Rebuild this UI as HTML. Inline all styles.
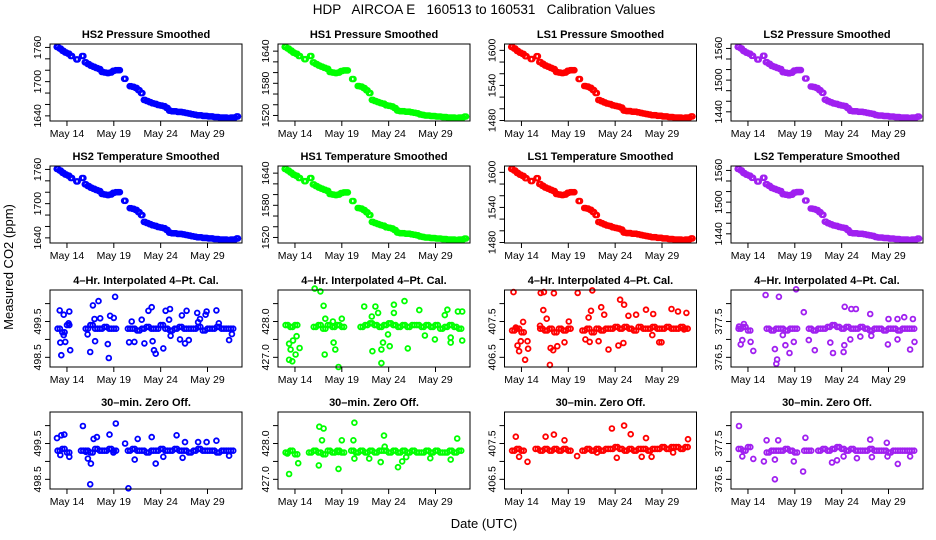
<!DOCTYPE html>
<html><head><meta charset="utf-8"><style>
html,body{margin:0;padding:0;background:#fff;}
svg{display:block;font-family:"Liberation Sans",Arial,sans-serif;}
</style></head><body>
<svg id="chart" width="936" height="540" viewBox="0 0 936 540" xmlns="http://www.w3.org/2000/svg">
<rect x="0" y="0" width="936" height="540" fill="#fff"/>
<text x="484" y="14" font-size="13.5" text-anchor="middle" xml:space="preserve">HDP   AIRCOA E   160513 to 160531   Calibration Values</text>
<text x="0" y="0" font-size="13" text-anchor="middle" transform="translate(13,267) rotate(-90)">Measured CO2 (ppm)</text>
<text x="484" y="528" font-size="13" text-anchor="middle">Date (UTC)</text>
</svg>
<script>
// time grids (day of May)
const tSmooth=[12.9,13.2,13.5,13.8,14.1,14.4,14.7,15.0,15.3,15.6,15.9,16.2,16.5,16.8,17.1,17.4,17.7,18.0,18.3,18.6,18.9,19.2,19.5,19.8,20.1,20.4,20.7,21.0,21.3,21.6,21.9,22.2,22.5,22.8,23.1,23.4,23.7,24.0,24.3,24.6,24.9,25.2,25.5,25.8,26.1,26.4,26.7,27.0,27.3,27.6,27.9,28.2,28.5,28.8,29.1,29.4,29.7,30.0,30.3,30.6,30.9,31.2,31.5,31.8,32.1];
const tNoise=[13.0,13.5,14.0,14.5,15.0,15.5,16.0,16.5,17.0,17.5,18.0,18.5,19.0,19.5,20.0,20.5,21.0,21.5,22.0,22.5,23.0,23.5,24.0,24.5,25.0,25.5,26.0,26.5,27.0,27.5,28.0,28.5,29.0,29.5,30.0,30.5,31.0,31.5,32.0];
const xTickDays=[14,19,24,29];
const xTickLabels=["May 14","May 19","May 24","May 29"];

// smoothed series
const hs2Smooth=[1761,1758,1754,1751,1749,1745,null,1739,null,1745,1734,1731,1728,1726,1724,1722,1717,1716,1715,1716,1719,1720,1720,null,1705,null,1692,1691,1689,1685,1680,1668,1666,1664,1662,1661,1659,1658,1657,1654,1649,1648,1648,1647,1647,1646,1645,1644,1643,1642,1641,1641,1640,1640,1639,1639,1638,1638,1637,1637,1637,1636,1637,1637,1639];
const hs1Smooth=[1648,1645,1641,1637,1635,1631,null,1625,null,1631,1619,1616,1613,1611,1609,1607,1601,1600,1599,1600,1603,1604,1604,null,1588,null,1575,1574,1571,1567,1562,1549,1547,1545,1543,1542,1539,1538,1537,1534,1529,1528,1528,1527,1527,1526,1525,1524,1522,1521,1520,1520,1519,1519,1518,1518,1517,1517,1516,1516,1516,1515,1516,1516,1518];
const ls1Smooth=[1606,1603,1599,1596,1594,1590,null,1585,null,1590,1580,1577,1574,1572,1570,1568,1563,1562,1561,1562,1565,1566,1566,null,1551,null,1539,1538,1536,1532,1527,1515,1513,1511,1509,1508,1506,1505,1504,1502,1497,1496,1496,1495,1495,1494,1493,1492,1491,1490,1489,1489,1488,1488,1487,1487,1486,1486,1485,1485,1485,1484,1485,1485,1487];
const ls2Smooth=[1563,1560,1555,1552,1550,1546,null,1539,null,1546,1534,1531,1527,1525,1523,1521,1515,1514,1513,1514,1518,1519,1519,null,1503,null,1488,1487,1485,1481,1476,1463,1460,1458,1456,1455,1453,1452,1451,1447,1442,1441,1441,1440,1440,1439,1438,1437,1436,1434,1433,1433,1432,1432,1431,1431,1430,1430,1429,1429,1429,1428,1429,1429,1431];

// noise baselines (on tNoise)
const hs2Cal=[499.3,499.2,499.4,null,null,null,499.3,499.4,499.3,499.3,499.35,499.3,499.3,null,null,499.3,499.3,499.25,499.3,499.35,499.3,499.3,499.4,499.3,499.25,499.3,499.35,499.3,499.3,499.3,499.35,499.25,499.3,499.3,499.35,499.3,499.3,499.3,null];
const hs1Cal=[427.9,427.85,427.9,null,null,null,427.85,427.9,427.8,427.9,427.85,427.9,427.85,null,null,null,427.85,427.9,427.95,427.9,427.85,427.9,427.95,427.9,427.85,427.9,427.85,427.9,427.9,427.85,427.9,427.85,427.9,427.8,427.85,427.9,427.85,427.8,null];
const ls1Cal=[407.25,407.3,407.2,null,null,null,407.3,407.25,407.3,407.2,407.3,407.25,407.3,null,null,407.25,407.3,407.2,407.3,407.25,407.3,407.3,407.35,407.3,407.35,407.3,407.25,407.35,407.3,407.3,407.35,407.3,407.3,407.35,407.3,407.3,407.35,407.3,null];
const ls2Cal=[377.3,377.35,377.25,null,null,null,377.3,377.25,377.3,377.3,377.25,377.3,377.3,null,null,377.3,377.25,377.3,377.3,377.35,377.4,377.35,377.3,377.35,377.3,377.3,377.35,377.3,377.25,377.3,377.3,377.25,377.3,377.3,377.25,377.3,377.3,377.3,null];
const hs2Zero=[499.3,499.35,499.25,null,null,499.3,499.3,499.25,499.35,499.3,499.3,499.35,499.3,null,null,499.3,499.35,499.3,499.3,499.25,499.3,499.3,499.35,499.3,499.3,499.35,499.3,499.3,499.25,499.3,499.35,499.3,499.3,499.3,499.25,499.3,499.3,499.3,null];
const hs1Zero=[427.75,427.8,427.7,null,null,427.75,427.8,427.75,427.7,427.8,427.75,427.8,427.75,null,427.8,427.75,427.8,427.75,427.8,427.75,427.8,427.8,427.75,427.8,427.75,427.8,427.75,427.8,427.75,427.75,427.8,427.75,427.8,427.75,427.75,427.8,427.75,427.8,null];
const ls1Zero=[407.3,407.35,407.3,null,null,407.35,407.3,407.35,407.3,407.35,407.3,407.35,407.3,null,null,407.3,407.35,407.3,407.35,407.3,407.35,407.35,407.4,407.35,407.3,407.35,407.3,407.35,407.35,407.3,407.35,407.35,407.4,407.35,407.4,407.4,407.35,407.4,null];
const ls2Zero=[377.35,377.3,377.4,null,null,null,377.25,377.3,377.3,377.3,377.35,377.3,377.25,null,377.3,377.3,null,377.3,377.35,377.3,377.35,377.4,377.35,377.3,377.35,377.3,377.3,377.3,377.35,377.3,377.3,377.3,377.25,377.3,377.3,377.3,377.3,377.3,null];

// noise outliers (time, value)
const hs2CalT=[13.22,13.65,14.25,13.29,13.82,13.4,14.35,13.65,14.18,16.77,17.37,17.0,16.48,16.2,16.94,17.55,18.6,19.14,18.36,18.47,19.0,20.91,20.63,21.2,21.98,22.26,22.69,23.04,23.14,23.29,23.47,24.28,24.53,25.0,24.9,25.06,26.06,26.6,26.27,26.77,27.0,27.9,28.0,28.8,28.9,29.95,30.2,31.3,31.6,28.2];
const hs2CalV=[499.81,499.69,499.78,498.91,498.93,498.56,498.7,499.12,499.45,499.95,500.07,498.95,498.65,499.14,499.57,499.59,499.66,500.19,498.87,498.48,499.6,499.5,498.92,498.93,499.55,498.89,499.8,499.9,498.95,498.7,498.6,498.75,499.8,499.85,499.55,499.1,499.0,498.89,499.67,499.8,498.98,499.74,499.48,499.69,499.78,499.81,499.45,498.98,499.15,499.57];
const hs1CalT=[13.37,13.54,13.37,13.72,14.49,13.79,14.07,14.18,16.11,16.71,17.06,17.17,17.24,18.05,18.3,18.12,18.65,19.0,21.39,22.27,22.59,23.22,23.22,23.4,24.56,24.56,23.93,24.11,25.69,26.04,27.27,27.87,28.93,29.99,30.27,30.62,31.39,31.85,31.85,30.62,22.2,22.87];
const hs1CalV=[427.38,427.22,426.93,426.89,427.26,427.47,427.08,427.59,428.92,428.84,428.44,427.08,428.08,428.0,427.22,427.41,426.73,428.08,428.42,427.17,428.42,427.22,426.84,427.41,428.47,428.24,427.64,427.31,428.57,427.25,428.32,427.61,427.5,428.18,428.33,427.41,428.28,428.28,427.47,427.55,428.14,428.24];
const ls1CalT=[13.15,13.4,13.58,13.75,13.93,14.18,14.39,14.64,14.71,15.98,16.05,16.33,16.4,16.69,17.11,17.39,17.04,17.46,17.82,18.59,19.05,20.0,21.42,21.17,20.82,21.28,21.56,22.23,22.51,22.83,23.29,24.35,24.53,24.95,24.88,25.41,26.23,27.29,27.96,28.06,28.7,28.95,30.01,30.71,31.6,31.35];
const ls1CalV=[408.32,407.33,406.83,406.67,406.95,407.49,406.43,406.95,406.74,407.38,408.3,407.82,408.32,407.58,406.76,406.7,406.29,408.29,406.81,406.92,407.5,408.3,407.8,407.61,407.0,406.93,408.37,406.95,407.9,407.69,406.72,406.83,408.11,407.97,406.9,407.66,407.69,407.83,407.12,407.71,406.92,406.92,407.85,407.78,407.74,407.28];
const ls2CalT=[13.22,13.4,14.28,14.57,13.04,13.57,15.88,17.3,19.14,16.87,17.11,17.02,18.0,18.43,17.72,18.89,19.96,20.49,21.13,22.79,23.08,24.28,24.21,24.32,25.03,25.52,24.92,25.99,27.05,27.16,28.93,29.0,29.96,29.96,31.3,31.77,30.67,31.6];
const ls2CalV=[376.86,376.98,376.93,376.68,377.36,377.43,378.24,378.19,378.4,376.73,376.44,376.32,376.84,376.62,377.12,376.93,377.76,376.98,376.7,376.91,376.62,376.84,376.65,377.91,377.85,377.85,377.0,377.08,377.71,377.1,376.86,377.57,377.0,377.57,376.72,376.93,377.62,377.57];
const hs2ZeroT=[12.94,13.4,13.72,13.29,14.25,15.7,16.02,16.23,16.55,16.48,16.84,17.2,18.54,19.21,18.96,20.2,20.56,21.23,21.55,23.04,23.47,24.28,25.7,26.34,26.6,28.0,28.9,29.95,31.3];
const hs2ZeroV=[499.65,499.73,499.75,499.18,499.13,499.99,499.27,499.08,498.94,498.36,499.63,499.68,499.75,500.06,499.25,499.5,498.25,499.05,499.63,499.68,498.94,499.13,499.73,499.1,499.54,499.54,499.54,499.58,499.16];
const hs1ZeroT=[13.37,14.35,13.19,16.6,17.06,16.89,16.54,18.65,19.0,20.34,20.24,20.34,21.92,23.15,23.5,25.0,25.44,25.87,23.58,28.44,30.62,31.32,18.65];
const hs1ZeroV=[427.15,427.45,427.72,428.47,428.42,428.09,427.39,427.29,428.09,428.58,428.09,427.58,427.58,427.48,428.22,427.34,427.5,427.62,427.91,427.59,427.55,428.14,427.76];
const ls1ZeroT=[13.4,14.64,13.75,16.58,17.46,18.59,23.65,24.95,25.66,27.29,26.83,27.89,30.18,31.77,22.06,24.17,19.94];
const ls1ZeroV=[407.69,406.99,407.13,407.69,407.75,407.59,407.92,408.0,407.76,407.65,407.13,407.13,407.25,407.62,407.25,407.1,407.15];
const ls2ZeroT=[13.04,14.57,15.7,15.99,16.87,16.87,17.23,18.89,19.89,20.13,22.97,23.5,24.21,25.63,27.05,27.23,28.82,28.89,29.99,31.3,13.4];
const ls2ZeroV=[377.99,377.07,377.0,377.59,376.5,377.05,377.59,377.0,376.72,377.66,376.97,377.03,377.14,377.09,377.61,377.12,377.52,377.14,376.93,377.14,377.14];

// noise axis ranges per column
const noiseRanges=[[498.23,500.38],[426.73,428.88],[406.23,408.38],[376.23,378.38]];

const NS="http://www.w3.org/2000/svg";
const svg=document.getElementById("chart");
const colLeft=[50,278,504.5,731], rowTop=[44,166,290,412], W=192, H=77;
const dayMin=12.19, pxPerDay=9.37;
const colors=["#0000ff","#00ff00","#ff0000","#a020f0"];
const names=["hs2","hs1","ls1","ls2"];
const labelsN=["HS2","HS1","LS1","LS2"];
const smoothData=[hs2Smooth,hs1Smooth,ls1Smooth,ls2Smooth];
const calBase=[hs2Cal,hs1Cal,ls1Cal,ls2Cal];
const zeroBase=[hs2Zero,hs1Zero,ls1Zero,ls2Zero];
const calOut=[[hs2CalT,hs2CalV],[hs1CalT,hs1CalV],[ls1CalT,ls1CalV],[ls2CalT,ls2CalV]];
const zeroOut=[[hs2ZeroT,hs2ZeroV],[hs1ZeroT,hs1ZeroV],[ls1ZeroT,ls1ZeroV],[ls2ZeroT,ls2ZeroV]];

function mk(tag,attrs,parent){const e=document.createElementNS(NS,tag);for(const k in attrs)e.setAttribute(k,attrs[k]);(parent||svg).appendChild(e);return e;}

function drawPanel(c,r,title,lo,hi,step,labelEvery,decimals,series){
  const L=colLeft[c],T=rowTop[r],B=T+H;
  const g=mk("g",{});
  
  
  const x=d=>L+(d-dayMin)*pxPerDay;
  const y=v=>B-(v-lo)/(hi-lo)*H;
  const tt=mk("text",{x:L+W/2,y:T-6,"font-size":"11","font-weight":"bold","text-anchor":"middle"},g);
  
  
  tt.textContent=title;
  const pg=mk("g",{fill:"none",stroke:colors[c],"stroke-width":"1.8"},g);
  
  
  series.forEach(([ts,vs,shift])=>{
    const sh=shift||0;
    for(let i=0;i<ts.length;i++){
      const v=vs[i]; if(v===null||v===undefined)continue;
      const cy=y(v); if(cy<T-3||cy>B+3)continue;
      const pt=mk("circle",{cx:(x(ts[i])+sh).toFixed(1),cy:cy.toFixed(1),r:"2.4"},pg);
      
      
    }
  });
  const box=mk("rect",{x:L,y:T,width:W,height:H,fill:"none",stroke:"#000","stroke-width":"1"},g);
  
  
  xTickDays.forEach((d,i)=>{
    mk("line",{x1:x(d),x2:x(d),y1:B,y2:B+5,stroke:"#000"},g);
    const lb=mk("text",{x:x(d),y:B+16,"font-size":"10.5","text-anchor":"middle"},g);
    
    
    lb.textContent=xTickLabels[i];
  });
  const first=Math.ceil(lo/step-1e-9)*step;
  let k=0;
  for(let v=first;v<=hi+1e-9;v+=step,k++){
    const yy=y(v);
    mk("line",{x1:L-5,x2:L,y1:yy,y2:yy,stroke:"#000"},g);
    if(k%labelEvery===0){
      const lb=mk("text",{x:0,y:0,"font-size":"10.5","text-anchor":"middle",transform:`translate(${L-9},${yy}) rotate(-90)`},g);
      
      
      lb.textContent=v.toFixed(decimals);
    }
  }
}

for(let c=0;c<4;c++){
  const d=smoothData[c].filter(v=>v!==null);
  const mn=Math.min(...d),mx=Math.max(...d),pad=(mx-mn)*0.04;
  drawPanel(c,0,labelsN[c]+" Pressure Smoothed",mn-pad,mx+pad,20,3,0,[[tSmooth,smoothData[c]],[tSmooth,smoothData[c],1.4]]);
  drawPanel(c,1,labelsN[c]+" Temperature Smoothed",mn-pad,mx+pad,20,3,0,[[tSmooth,smoothData[c]],[tSmooth,smoothData[c],1.4]]);
  const [lo,hi]=noiseRanges[c];
  drawPanel(c,2,"4\u2013Hr. Interpolated 4\u2013Pt. Cal.",lo,hi,0.5,2,1,[[tNoise,calBase[c]],[tNoise,calBase[c],2.3],calOut[c]]);
  drawPanel(c,3,"30\u2013min. Zero Off.",lo,hi,0.5,2,1,[[tNoise,zeroBase[c]],[tNoise,zeroBase[c],2.3],zeroOut[c]]);
}
</script>
</body></html>
